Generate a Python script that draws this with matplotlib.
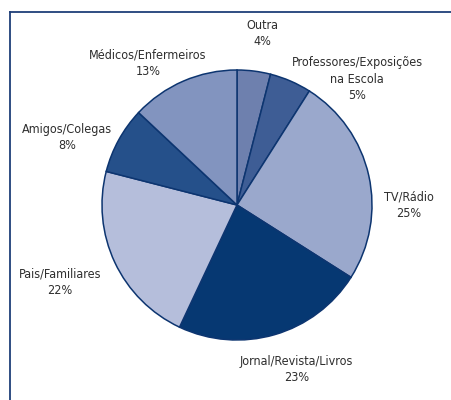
import matplotlib
matplotlib.use("Agg")
import matplotlib.pyplot as plt
from matplotlib.lines import Line2D

# data, clockwise from 12 o'clock
labels = ["Outra", "Professores/Exposições\nna Escola", "TV/Rádio",
          "Jornal/Revista/Livros", "Pais/Familiares", "Amigos/Colegas",
          "Médicos/Enfermeiros"]
values = [4, 5, 25, 23, 22, 8, 13]
colors = ["#6e80ae", "#3e5d95", "#9aa8cc", "#063872", "#b5bedb", "#25508a", "#8294bf"]

# label centres, in pie-radius units
label_pos = [(0.185, 1.27), (0.89, 0.93), (1.27, 0.0), (0.44, -1.22),
             (-1.31, -0.57), (-1.26, 0.5), (-0.66, 1.05)]

plt.rcParams["font.family"] = ["DejaVu Sans"]

fig = plt.figure(figsize=(4.52, 4.0), dpi=100)
ax = fig.add_axes([0, 0, 1, 1])

ax.pie(values, colors=colors, startangle=90, counterclock=False, radius=1.0,
       wedgeprops=dict(edgecolor="#0d3570", linewidth=1.1))

for lab, v, (x, y) in zip(labels, values, label_pos):
    ax.text(x, y, f"{lab}\n{v}%", ha="center", va="center", fontsize=9,
            fontstretch="condensed", color="#2e2e2e", linespacing=1.35)

# pie centre at (237, 205) px, radius 135 px
ax.set_xlim(-237 / 135, (452 - 237) / 135)
ax.set_ylim(-195 / 135, 205 / 135)
ax.set_aspect("auto")
ax.axis("off")

# frame (left and top edges)
fx = 9.5 / 452
fy = 1 - 11.5 / 400
fig.add_artist(Line2D([fx, fx], [0, fy], transform=fig.transFigure, color="#1f3f78", lw=1.3))
fig.add_artist(Line2D([fx, 1], [fy, fy], transform=fig.transFigure, color="#1f3f78", lw=1.3))

fig.savefig("out.png", dpi=100)
